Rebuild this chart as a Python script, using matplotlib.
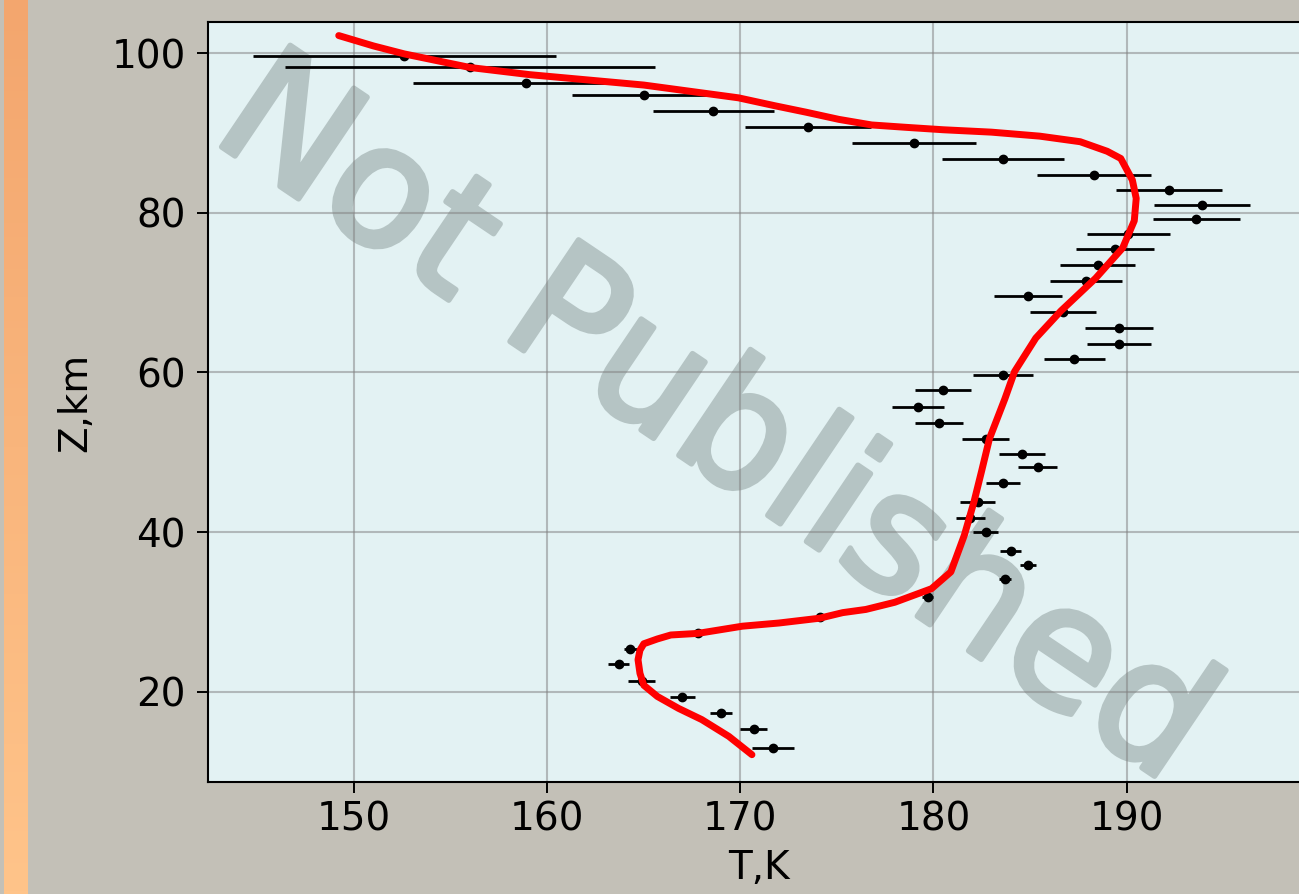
import numpy as np
import matplotlib
matplotlib.use('Agg')
import matplotlib.pyplot as plt
import matplotlib.patheffects as pe

# measured temperature profile (altitude km, temperature K, half-width of error bar K)
z_obs = [13.0, 15.3, 17.3, 19.3, 21.3, 23.5, 25.3, 27.3, 29.4, 31.9,
         34.1, 35.9, 37.6, 40.0, 41.7, 43.8, 46.2, 48.1, 49.8, 51.7,
         53.7, 55.7, 57.8, 59.7, 61.7, 63.6, 65.5, 67.6, 69.6, 71.5,
         73.5, 75.4, 77.4, 79.2, 81.0, 82.8, 84.7, 86.7, 88.7, 90.7,
         92.7, 94.7, 96.3, 98.2, 99.7]
t_obs = [171.7, 170.7, 169.0, 167.0, 164.9, 163.7, 164.3, 167.8, 174.1, 179.7,
         183.7, 184.9, 184.0, 182.7, 181.9, 182.3, 183.6, 185.4, 184.6, 182.7,
         180.3, 179.2, 180.5, 183.6, 187.3, 189.6, 189.6, 186.7, 184.9, 187.9,
         188.5, 189.4, 190.1, 193.6, 193.9, 192.2, 188.3, 183.6, 179.0, 173.5,
         168.6, 165.0, 158.9, 156.0, 152.6]
t_err = [1.1, 0.7, 0.55, 0.65, 0.7, 0.55, 0.35, 0.3, 0.3, 0.3,
         0.3, 0.4, 0.55, 0.65, 0.75, 0.9, 0.9, 1.0, 1.2, 1.2,
         1.25, 1.35, 1.45, 1.55, 1.6, 1.65, 1.75, 1.7, 1.75, 1.85,
         1.95, 2.0, 2.15, 2.25, 2.5, 2.75, 2.95, 3.15, 3.2, 3.25,
         3.15, 3.7, 5.85, 9.6, 7.85]

# model profile (red curve)
z_model = [102.2, 100.9, 99.9, 98.2, 97.3, 96.0, 94.4, 93.4, 92.6, 91.7,
           91.0, 90.7, 90.4, 90.1, 89.6, 88.9, 87.7, 86.8, 84.1, 81.8,
           79.0, 75.6, 71.8, 67.7, 64.3, 60.1, 56.7,
           51.7, 47.7, 43.8, 39.6, 35.0, 32.9, 31.2, 30.3, 29.9, 29.2,
           28.6, 28.2, 27.3, 27.1, 26.6, 26.0, 25.2, 24.0, 22.3, 20.8,
           19.4, 17.9, 16.5, 14.4, 12.1]
t_model = [149.2, 151.0, 152.6, 156.0, 159.1, 165.0, 169.9, 171.8, 173.4, 175.1,
           176.8, 178.6, 180.5, 183.0, 185.5, 187.6, 189.0, 189.7, 190.3, 190.5,
           190.4, 189.8, 188.4, 186.6, 185.3, 184.2, 183.7,
           182.9, 182.5, 182.1, 181.6, 180.9, 179.9, 178.0, 176.5, 175.3, 174.1,
           172.0, 170.1, 167.8, 166.4, 165.7, 165.0, 164.8, 164.7, 164.8, 165.0,
           165.7, 166.8, 168.0, 169.4, 170.6]

fig = plt.figure(figsize=(12.99, 8.94), dpi=100, facecolor='#c3c0b7')

# orange strip at the left edge of the screenshot
strip = fig.add_axes([4 / 1299, 0, 24 / 1299, 1])
grad = np.linspace(0, 1, 256).reshape(-1, 1)
top = np.array([243, 166, 110]) / 255
bot = np.array([255, 196, 138]) / 255
img = top[None, None, :] * (1 - grad[:, :, None]) + bot[None, None, :] * grad[:, :, None]
strip.imshow(img, aspect='auto', extent=[0, 1, 0, 1])
strip.axis('off')

ax = fig.add_axes([208 / 1299, 112 / 894, 1102 / 1299, 760 / 894])
ax.set_facecolor('#e3f2f3')
ax.set_xlim(142.43, 199.5)
ax.set_ylim(8.68, 103.9)

ax.grid(True, color='grey', alpha=0.5, linewidth=1.5)
ax.set_xticks([150, 160, 170, 180, 190])
ax.set_yticks([20, 40, 60, 80, 100])

ax.errorbar(t_obs, z_obs, xerr=t_err, fmt='o', color='black', ecolor='black',
            elinewidth=2.0, markersize=6, capsize=0, zorder=3)
ax.plot(t_model, z_model, color='red', linewidth=5, solid_capstyle='round',
        solid_joinstyle='round', zorder=4)

# watermark
ax.text(142.43, 89.4, 'Not Published', fontsize=121, color='#b5c4c4',
        rotation=-34, rotation_mode='anchor', ha='left', va='baseline',
        zorder=1, clip_on=True,
        path_effects=[pe.Stroke(linewidth=4, foreground='#b5c4c4',
                                joinstyle='round', capstyle='round'),
                      pe.Normal()])

for s in ax.spines.values():
    s.set_linewidth(1.5)
ax.tick_params(axis='both', labelsize=28, length=8, width=1.4)
ax.tick_params(axis='y', pad=8)
ax.tick_params(axis='x', pad=5)
ax.set_xlabel('T,K', fontsize=28, labelpad=8)
ax.set_ylabel('Z,km', fontsize=28, labelpad=12)

plt.savefig('out.png', dpi=100, facecolor=fig.get_facecolor())
